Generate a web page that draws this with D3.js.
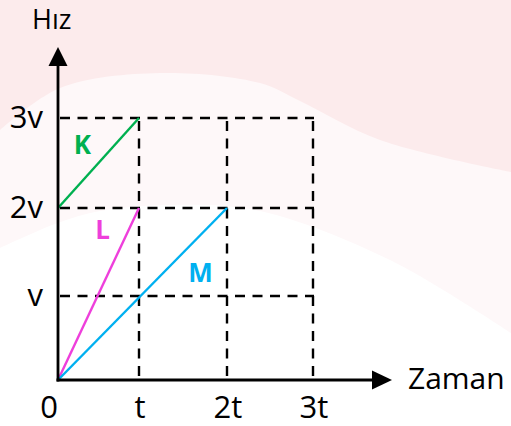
<!DOCTYPE html>
<html>
<head>
<meta charset="utf-8">
<script src="https://cdn.jsdelivr.net/npm/d3@7"></script>
<style>
  html, body { margin: 0; padding: 0; background: #ffffff; }
  svg { display: block; }
</style>
</head>
<body>
<svg id="chart" width="511" height="426"></svg>
<script>
// ---- data ----
const xTickValues = [0, 1, 2, 3];
const xTickLabels = ["0", "t", "2t", "3t"];
const yTickValues = [1, 2, 3];
const yTickLabels = ["v", "2v", "3v"];
const seriesNames = ["K", "L", "M"];
const seriesK = [{x: 0, y: 2}, {x: 1, y: 3}];
const seriesL = [{x: 0, y: 0}, {x: 1, y: 2}];
const seriesM = [{x: 0, y: 0}, {x: 2, y: 2}];
const seriesLabelPos = [{x: 0.3, y: 2.6}, {x: 0.55, y: 1.65}, {x: 1.7, y: 1.16}];
const xAxisTitle = "Zaman";
const yAxisTitle = "Hız";

// ---- drawing ----
const svg = d3.select("#chart");
const W = 511, H = 426;

// decorative background
const bg = svg.append("g");
const curve = d3.line().curve(d3.curveCatmullRom);
const lowerPts = [[0,248],[55,224],[100,211],[170,205],[260,211],[390,260],[511,333]];
const upperPts = [[0,130],[60,88],[160,73],[260,83],[300,101],[380,140],[511,172]];
bg.append("path")
  .attr("d", "M0,0 L" + W + ",0 L" + curve(lowerPts.slice().reverse()).slice(1) + " Z")
  .attr("fill", "#fef8f9");
bg.append("path")
  .attr("d", "M0,0 L" + W + ",0 L" + curve(upperPts.slice().reverse()).slice(1) + " Z")
  .attr("fill", "#fcebec");

const x = d3.scaleLinear().domain([0, 1, 2, 3]).range([58, 139, 227, 313]);
const y = d3.scaleLinear().domain([0, 1, 2, 3]).range([380, 296, 208, 118]);

const font = "'Open Sans', 'DejaVu Sans', sans-serif";

// dashed grid
const grid = svg.append("g")
  .attr("stroke", "#000")
  .attr("stroke-width", 2.4)
  .attr("stroke-dasharray", "10,7.5")
  .attr("fill", "none");
yTickValues.forEach(v => {
  grid.append("line")
    .attr("x1", x(0) + 2).attr("x2", x(3) + 1)
    .attr("y1", y(v)).attr("y2", y(v));
});
xTickValues.slice(1).forEach(v => {
  grid.append("line")
    .attr("x1", x(v)).attr("x2", x(v))
    .attr("y1", y(3) + 3).attr("y2", y(0));
});

// series lines
const line = d3.line().x(d => x(d.x)).y(d => y(d.y));
const colors = ["#00b050", "#ee3fdb", "#00b0f0"];
[seriesK, seriesL, seriesM].forEach((s, i) => {
  svg.append("path")
    .attr("d", line(s))
    .attr("fill", "none")
    .attr("stroke", colors[i])
    .attr("stroke-width", 2.4);
});

// axes
const axisG = svg.append("g");
const yAxis = d3.axisLeft(y).tickValues([]).tickSize(0);
const xAxis = d3.axisBottom(x).tickValues([]).tickSize(0);
axisG.append("g").attr("transform", `translate(${x(0)},0)`).call(yAxis)
  .call(g => g.select(".domain").attr("d", `M0,${y(0) + 1.5}V66`).attr("stroke", "#000").attr("stroke-width", 2.8));
axisG.append("g").attr("transform", `translate(0,${y(0)})`).call(xAxis)
  .call(g => g.select(".domain").attr("d", `M${x(0) - 1.5},0H372`).attr("stroke", "#000").attr("stroke-width", 2.8));

// arrowheads
svg.append("path").attr("d", `M${x(0)},47 L${x(0) + 9.5},66 L${x(0) - 9.5},66 Z`).attr("fill", "#000");
svg.append("path").attr("d", `M392,${y(0)} L372,${y(0) - 9.5} L372,${y(0) + 9.5} Z`).attr("fill", "#000");

// tick labels
svg.append("g").selectAll("text").data(yTickValues).join("text")
  .attr("x", 43)
  .attr("y", d => y(d) + 10)
  .attr("text-anchor", "end")
  .attr("font-family", font)
  .attr("font-size", 31)
  .text((d, i) => yTickLabels[i]);

svg.append("g").selectAll("text").data(xTickValues).join("text")
  .attr("x", (d, i) => i === 0 ? 49 : x(d) + 1)
  .attr("y", 418)
  .attr("text-anchor", "middle")
  .attr("font-family", font)
  .attr("font-size", 31)
  .text((d, i) => xTickLabels[i]);

// axis titles
svg.append("text").attr("x", 32).attr("y", 29)
  .attr("font-family", font).attr("font-size", 27).text(yAxisTitle);
svg.append("text").attr("x", 408).attr("y", 389)
  .attr("font-family", font).attr("font-size", 30).text(xAxisTitle);

// series labels
svg.append("g").selectAll("text").data(seriesLabelPos).join("text")
  .attr("x", d => x(d.x))
  .attr("y", d => y(d.y))
  .attr("text-anchor", "middle")
  .attr("font-family", font)
  .attr("font-weight", "bold")
  .attr("font-size", 26)
  .attr("fill", (d, i) => colors[i])
  .text((d, i) => seriesNames[i]);
</script>
</body>
</html>
